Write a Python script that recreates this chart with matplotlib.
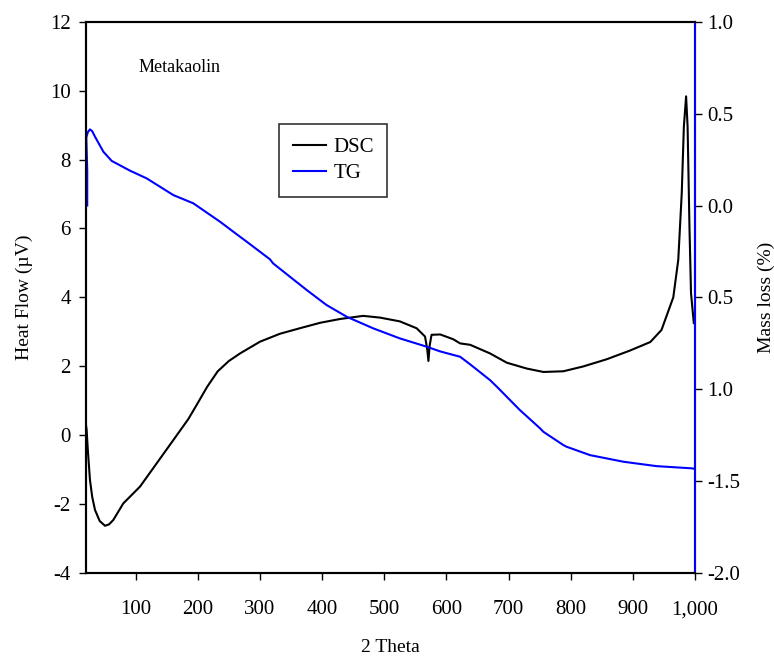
import matplotlib
matplotlib.use("Agg")
import matplotlib.pyplot as plt

plt.rcParams['font.family'] = ['Liberation Serif', 'DejaVu Serif']
plt.rcParams['axes.unicode_minus'] = False

# DSC curve (heat flow, left axis)
dsc_t = [20, 21, 23, 26.4, 30, 34.5, 42, 50.6, 57, 64, 80, 107, 128, 160.5, 184.6, 198,
         215, 232, 250, 268, 300, 332, 364, 397, 429, 466, 493, 525, 552, 565.5, 569, 571,
         573, 576, 590, 611, 622, 638, 670, 697, 729, 756, 788, 820, 858, 895, 928,
         946, 965, 973, 978.6, 982, 985.6, 988, 991, 993.5, 998]
dsc_v = [0.29, 0.15, -0.45, -1.31, -1.8, -2.18, -2.5, -2.64, -2.6, -2.47, -1.99, -1.50,
         -0.97, -0.15, 0.46, 0.87, 1.4, 1.85, 2.15, 2.37, 2.71, 2.94, 3.10, 3.26, 3.37, 3.46,
         3.41, 3.30, 3.10, 2.86, 2.5, 2.15, 2.6, 2.91, 2.92, 2.78, 2.66, 2.62, 2.37, 2.10,
         1.93, 1.83, 1.85, 1.99, 2.20, 2.45, 2.70, 3.05, 4.0, 5.09, 7.03, 8.96, 9.84,
         8.96, 6.05, 4.12, 3.25]

# TG curve (mass loss, right axis)
tg_t = [22, 22, 20.5, 23, 26.4, 30, 34.5, 48, 61.4, 90.8, 117.6, 160.5, 192.7, 235.6,
        267.8, 278.6, 316, 321, 375, 407, 439.5, 482, 525, 568, 590, 622, 638, 670,
        681, 718, 750.6, 756, 788, 793, 831, 884.7, 938, 994.7, 1000]
tg_v = [0.0, 0.19, 0.37, 0.40, 0.415, 0.405, 0.375, 0.293, 0.243, 0.19, 0.148, 0.057,
        0.012, -0.088, -0.17, -0.197, -0.293, -0.315, -0.46, -0.542, -0.606, -0.669,
        -0.724, -0.769, -0.795, -0.824, -0.865, -0.951, -0.987, -1.114, -1.214, -1.233,
        -1.305, -1.314, -1.36, -1.396, -1.42, -1.432, -1.435]

x_ticks = [100, 200, 300, 400, 500, 600, 700, 800, 900, 1000]
x_labels = ["100", "200", "300", "400", "500", "600", "700", "800", "900", "1,000"]
left_ticks = [-4, -2, 0, 2, 4, 6, 8, 10, 12]
right_ticks = [1.0, 0.5, 0.0, -0.5, -1.0, -1.5, -2.0]
right_labels = ["1.0", "0.5", "0.0", "0.5", "1.0", "-1.5", "-2.0"]

fig = plt.figure(figsize=(7.74, 6.57), dpi=100)
ax = fig.add_axes([0.1111, 0.1285, 0.898 - 0.1111, 0.9665 - 0.1285])
ax2 = ax.twinx()

l1, = ax.plot(dsc_t, dsc_v, color="black", lw=1.5, label="DSC")
l2, = ax2.plot(tg_t, tg_v, color="blue", lw=1.5, label="TG")

ax.set_xlim(20, 1000)
ax.set_ylim(-4, 12)
ax2.set_ylim(-2, 1)

ax.set_xticks(x_ticks)
ax.set_xticklabels(x_labels)
ax.set_yticks(left_ticks)
ax2.set_yticks(right_ticks)
ax2.set_yticklabels(right_labels)

ax.tick_params(axis="x", direction="out", length=5, width=1, pad=15, labelsize=15)
ax.tick_params(axis="y", direction="out", length=5, width=1, pad=6, labelsize=15)
ax2.tick_params(axis="y", direction="out", length=5, width=1, pad=4, labelsize=15)

for sp in ax.spines.values():
    sp.set_linewidth(1.5)
for sp in ax2.spines.values():
    sp.set_linewidth(1.5)
ax2.spines["right"].set_color("blue")

ax.set_xlabel("2 Theta", fontsize=14, labelpad=14)
ax.set_ylabel("Heat Flow (µV)", fontsize=14, labelpad=12)
ax2.set_ylabel("Mass loss (%)", fontsize=14, labelpad=12)

ax.text(104, 10.67, "Metakaolin", fontsize=13, va="center", ha="left")

leg = fig.legend([l1, l2], ["DSC", "TG"], loc="upper left",
                 bbox_to_anchor=(279 / 774, 1 - 124 / 657), borderaxespad=0,
                 fontsize=15, frameon=True, fancybox=False, edgecolor="black",
                 handlelength=1.6, borderpad=0.65, labelspacing=0.3,
                 handletextpad=0.35)
leg.get_frame().set_linewidth(1.2)

fig.savefig("out.png", dpi=100)
